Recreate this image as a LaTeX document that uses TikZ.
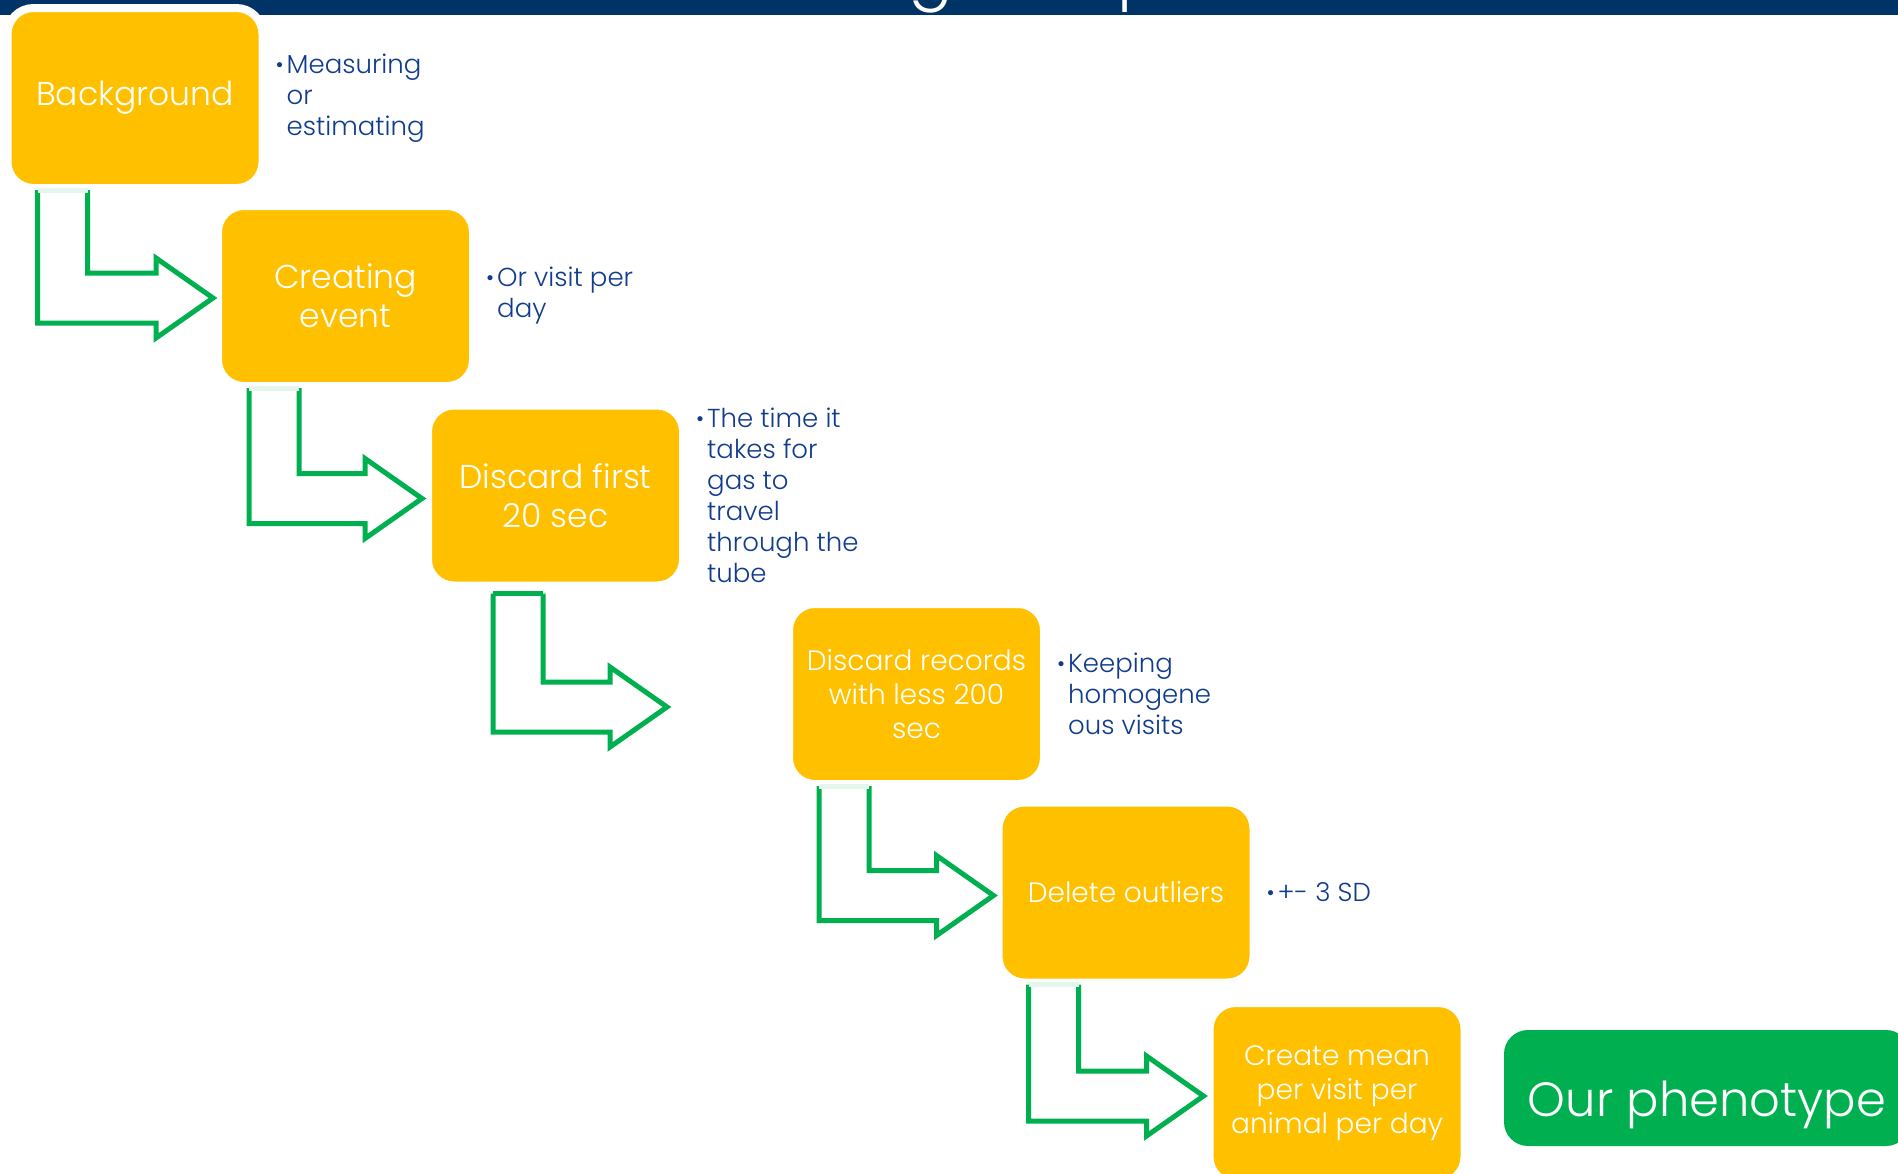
\documentclass[tikz,border=0pt]{standalone}
\usepackage{fontspec}
\IfFontExistsTF{Poppins Light}{\setmainfont{Poppins Light}}{\setmainfont{Poppins}}
\usepackage{tikz}
\usetikzlibrary{positioning, calc}

\definecolor{boxgold}{HTML}{FFC000}
\definecolor{okgreen}{HTML}{00B050}
\definecolor{barnavy}{HTML}{003366}
\definecolor{notenavy}{RGB}{17,60,140}

\newcommand{\bul}{\makebox[11pt][l]{\fontsize{22}{22}\selectfont\raisebox{1pt}{•}}}
\newcommand{\ind}{\hspace*{11pt}}
% #1 from, #2 to, #3 shaft offset, #4 tip gap, #5 drop of the tip, #6 top gap, #7 colour of the top edge
\newcommand{\flowarrow}[7]{%
  \draw[arrowline] let \p1=(#1.south west), \p2=(#2.west) in
    (\x1+#3pt,\y1-#6pt) -- (\x1+#3pt,\y2-#5pt-25pt) -- (\x2-#4pt-57pt,\y2-#5pt-25pt)
    -- (\x2-#4pt-57pt,\y2-#5pt-40pt) -- (\x2-#4pt,\y2-#5pt) -- (\x2-#4pt-57pt,\y2-#5pt+40pt)
    -- (\x2-#4pt-57pt,\y2-#5pt+25pt) -- (\x1+#3pt+50pt,\y2-#5pt+25pt) -- (\x1+#3pt+50pt,\y1-#6pt);
  \draw[arrowline,draw=#7] let \p1=(#1.south west) in
    (\x1+#3pt,\y1-#6pt) -- (\x1+#3pt+50pt,\y1-#6pt);
}

\tikzset{
  stepbox/.style={rectangle, rounded corners=26pt, fill=boxgold, draw=white, line width=8pt,
    outer sep=0pt, minimum width=255pt, minimum height=180pt, inner sep=0pt, text=white,
    align=center, font=\fontsize{33}{39}\selectfont},
  smallstep/.style={stepbox, font=\fontsize{28}{34}\selectfont},
  endbox/.style={rectangle, rounded corners=24pt, fill=okgreen, outer sep=0pt,
    minimum width=406pt, minimum height=116pt, text=white, font=\fontsize{48}{56}\selectfont},
  note/.style={inner sep=0pt, align=left, text=notenavy, font=\fontsize{26}{31}\selectfont},
  titletext/.style={inner sep=0pt, text=white, font=\fontsize{66}{70}\selectfont},
  arrowline/.style={draw=okgreen, line width=5pt, line join=miter}
}

\begin{document}
\begin{tikzpicture}[x=1pt,y=-1pt]
    \useasboundingbox (0,0) rectangle (1898,1173);
    \clip (0,0) rectangle (1898,1173);
    % title bar, only the bottom of the title shows
    \fill[barnavy] (0,0) rectangle (1898,15);
    \node[titletext, anchor=base] (titleg) at (931,-5) {g};
    \node[titletext, anchor=base west] (titlep) at (1117,-5) {p};

    % steps
    \node[stepbox] (bg) at (135,98) {Background};
    \node[stepbox] (ce) at (345.5,296) {Creating\\event};
    \node[stepbox] (d20) at (555.5,495.5) {Discard first\\20 sec};
    \node[smallstep] (d200) at (916.5,694) {Discard records\\with less 200\\sec};
    \node[smallstep] (out) at (1126,892.5) {Delete outliers};
    \node[smallstep] (mean) at (1337,1093) {Create mean\\per visit per\\animal per day};
    \node[endbox] (pheno) at (1707,1088) {\raisebox{-28pt}[0pt][0pt]{Our phenotype}};

    % notes
    \node[note, right=13pt of bg] (bgnote) {\bul Measuring\\\ind or\\\ind estimating};
    \node[note, right=13pt of ce] (cenote) {\bul Or visit per\\\ind day};
    \node[note, right=13pt of d20] (d20note) {\bul The time it\\\ind takes for\\\ind gas to\\\ind travel\\\ind through the\\\ind tube};
    \node[note, right=13pt of d200] (d200note) {\bul Keeping\\\ind homogene\\\ind ous visits};
    \node[note, right=13pt of out] (outnote) {\bul +- 3 SD};

    % bent arrows
    \flowarrow{bg}{ce}{30}{5}{2}{2}{okgreen!10}
    \flowarrow{ce}{d20}{31}{6}{3}{2}{okgreen!10}
    \flowarrow{d20}{d200}{65}{122}{13}{8}{okgreen}
    \flowarrow{d200}{out}{30}{5}{3}{2}{okgreen!10}
    \flowarrow{out}{mean}{30}{6}{3}{2}{okgreen!10}
\end{tikzpicture}
\end{document}
